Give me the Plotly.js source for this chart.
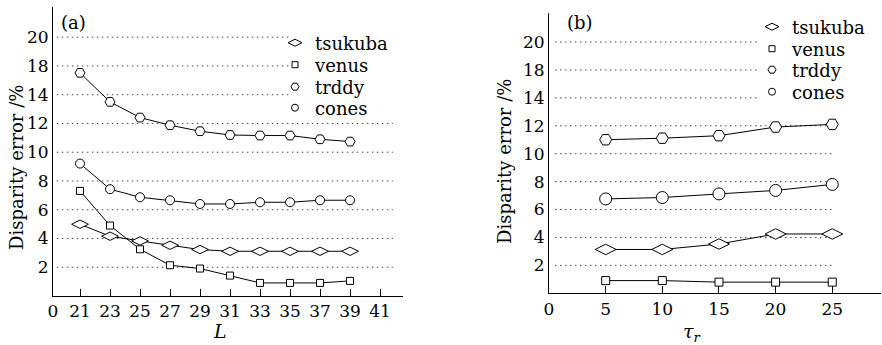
<!DOCTYPE html>
<html>
<head>
<meta charset="utf-8">
<script src="https://cdn.plot.ly/plotly-3.0.1.min.js"></script>
<style>html,body{margin:0;padding:0;background:#fff;}#chart{width:882px;height:345px;}</style>
</head>
<body>
<div id="chart"></div>
<script>
// ---- Data ----
const seriesNames = ["tsukuba", "venus", "trddy", "cones"];

// Panel (a): disparity error vs L
const L_values = [21, 23, 25, 27, 29, 31, 33, 35, 37, 39];
const a_tsukuba = [4.99, 4.16, 3.83, 3.53, 3.23, 3.11, 3.11, 3.11, 3.11, 3.11];
const a_venus   = [7.31, 4.90, 3.25, 2.14, 1.91, 1.42, 0.91, 0.91, 0.91, 1.05];
const a_trddy   = [15.52, 13.5, 12.41, 11.88, 11.46, 11.2, 11.16, 11.16, 10.9, 10.74];
const a_cones   = [9.21, 7.43, 6.87, 6.66, 6.40, 6.40, 6.52, 6.52, 6.66, 6.66];

// Panel (b): disparity error vs tau_r
const tau_values = [5, 10, 15, 20, 25];
const b_tsukuba = [3.14, 3.14, 3.53, 4.25, 4.25];
const b_venus   = [0.91, 0.91, 0.80, 0.80, 0.80];
const b_trddy   = [11.0, 11.11, 11.29, 11.91, 12.1];
const b_cones   = [6.76, 6.86, 7.12, 7.37, 7.8];

// Tick labels (as printed on the original figure)
const yTickVals  = [2, 4, 6, 8, 10, 12, 14, 16, 18];
const yTickText  = ["2", "4", "6", "8", "10", "12", "14", "18", "20"];
const xaTickVals = [19.2, 21, 23, 25, 27, 29, 31, 33, 35, 37, 39, 41];
const xaTickText = ["0", "21", "23", "25", "27", "29", "31", "33", "35", "37", "39", "41"];
const xbTickVals = [0, 5, 10, 15, 20, 25];
const xbTickText = ["0", "5", "10", "15", "20", "25"];

// ---- Styling ----
const FONT = "DejaVu Serif";
const W = 882, H = 345;
const px = v => v / W;
const py = v => 1 - v / H;

const symA = {tsukuba: ["diamond-wide", 12], venus: ["square", 7], trddy: ["hexagon2", 10], cones: ["circle", 9]};
const symB = {tsukuba: ["diamond-wide", 15], venus: ["square", 8], trddy: ["hexagon2", 12], cones: ["circle", 12]};
const legSym = {tsukuba: ["diamond-wide", 10], venus: ["square", 6], trddy: ["hexagon2", 8], cones: ["circle", 7]};

function lineTrace(x, y, name, sym, xa, ya) {
  return {
    x: x, y: y, name: name, type: "scatter", mode: "lines+markers",
    xaxis: xa, yaxis: ya, showlegend: false, cliponaxis: false,
    line: {color: "#000", width: 1},
    marker: {symbol: sym[0], size: sym[1], color: "#fff", line: {color: "#000", width: 1}}
  };
}
function legendTrace(name, sym, xa, ya, leg) {
  return {
    x: [null], y: [null], name: name, type: "scatter", mode: "markers",
    xaxis: xa, yaxis: ya, legend: leg, showlegend: true,
    marker: {symbol: sym[0], size: sym[1], color: "#fff", line: {color: "#000", width: 1}}
  };
}

const aData = {tsukuba: a_tsukuba, venus: a_venus, trddy: a_trddy, cones: a_cones};
const bData = {tsukuba: b_tsukuba, venus: b_venus, trddy: b_trddy, cones: b_cones};

const traces = [];
seriesNames.forEach(n => traces.push(lineTrace(L_values, aData[n], n, symA[n], "x", "y")));
seriesNames.forEach(n => traces.push(lineTrace(tau_values, bData[n], n, symB[n], "x2", "y2")));

// one legend per row so rows can sit at the reference spacing
const legRowsA = [43, 65, 87, 108];
const legRowsB = [27, 49, 70, 92];
const layoutLegends = {};
seriesNames.forEach((n, i) => {
  const la = i === 0 ? "legend" : "legend" + (i + 1);
  const lb = "legend" + (i + 5);
  traces.push(legendTrace(n, legSym[n], "x", "y", la));
  traces.push(legendTrace(n, legSym[n], "x2", "y2", lb));
  const common = {xanchor: "left", yanchor: "middle", bgcolor: "rgba(0,0,0,0)", borderwidth: 0,
    itemwidth: 30, font: {family: FONT, size: 18, color: "#000"}};
  layoutLegends[la] = Object.assign({x: px(275), y: py(legRowsA[i])}, common);
  layoutLegends[lb] = Object.assign({x: px(752), y: py(legRowsB[i])}, common);
});

// gridlines as dotted shapes
const dotted = {color: "#444", width: 1, dash: "1.5px,3.5px"};
const shapes = [];
yTickVals.forEach(v => {
  shapes.push({type: "line", xref: "x domain", yref: "y", x0: 0.011, x1: v >= 14 ? 0.677 : 0.971, y0: v, y1: v,
    layer: "below", line: dotted});
  shapes.push({type: "line", xref: "x2 domain", yref: "y2", x0: 0.018, x1: v >= 14 ? 0.633 : 0.858, y0: v, y1: v,
    layer: "below", line: dotted});
});

const axisCommon = {
  showline: true, linecolor: "#000", linewidth: 1, showgrid: false, zeroline: false,
  tickfont: {family: FONT, size: 17, color: "#000"}, tickmode: "array", fixedrange: true
};

function ann(text, x, y, size, extra) {
  return Object.assign({text: text, x: px(x), y: py(y), xref: "paper", yref: "paper", showarrow: false,
    xanchor: "center", yanchor: "middle", font: {family: FONT, size: size, color: "#000"}}, extra || {});
}

const layout = Object.assign({
  width: W, height: H,
  margin: {l: 0, r: 0, t: 0, b: 0},
  paper_bgcolor: "#fff", plot_bgcolor: "rgba(0,0,0,0)",
  font: {family: FONT, size: 17, color: "#000"},
  xaxis: Object.assign({}, axisCommon, {
    domain: [px(53), px(403)], range: [19.2, 42.53], anchor: "y",
    tickvals: xaTickVals, ticktext: xaTickText, ticks: "inside", ticklen: 7, tickcolor: "#000"
  }),
  yaxis: Object.assign({}, axisCommon, {
    domain: [py(296), py(7)], range: [0, 20.1], anchor: "x",
    tickvals: yTickVals, ticktext: yTickText, ticks: ""
  }),
  xaxis2: Object.assign({}, axisCommon, {
    domain: [px(549), px(881)], range: [0, 29.3], anchor: "y2",
    tickvals: xbTickVals, ticktext: xbTickText, ticks: "inside", ticklen: 7, tickcolor: "#000"
  }),
  yaxis2: Object.assign({}, axisCommon, {
    domain: [py(293.3), py(12.7)], range: [0, 20.1], anchor: "x2",
    tickvals: yTickVals, ticktext: yTickText, ticks: ""
  }),
  shapes: shapes,
  annotations: [
    ann("(a)", 73, 23, 18),
    ann("(b)", 580, 23, 18),
    ann("Disparity error /%", 16, 168, 18, {textangle: -90}),
    ann("Disparity error /%", 505, 162, 18, {textangle: -90}),
    ann("<i>L</i>", 220, 331, 19),
    ann("<i>τ</i><sub><i>r</i></sub>", 692, 332, 19)
  ]
}, layoutLegends);

Plotly.newPlot("chart", traces, layout, {displayModeBar: false, staticPlot: true});
</script>
</body>
</html>
